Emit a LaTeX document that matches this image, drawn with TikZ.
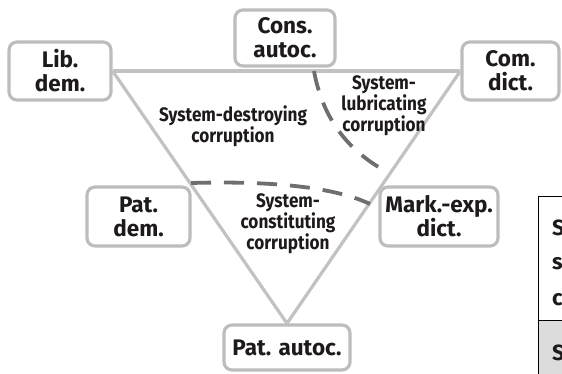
\documentclass[tikz,border=0pt]{standalone}
\usepackage{fontspec}
\setmainfont{Fira Sans}
\newfontfamily\zonefont{Fira Sans}[FakeStretch=0.88]
\definecolor{boxgray}{HTML}{BDBDBD}
\definecolor{linegray}{HTML}{C2C2C2}
\definecolor{dashgray}{HTML}{6E6E6E}
\definecolor{textdark}{HTML}{1E1A1B}
\definecolor{tablegray}{HTML}{DCDCDC}
\tikzset{
  regime/.style={draw=boxgray, line width=3.2pt, rounded corners=8pt, fill=white,
    text=textdark, inner sep=0pt, align=center,
    font=\bfseries\fontsize{22.5}{24}\selectfont},
  zonelabel/.style={text=textdark, align=center, inner sep=0pt,
    font=\zonefont\bfseries\fontsize{19.5}{21}\selectfont},
  side/.style={draw=linegray, line width=3.2pt},
  divider/.style={draw=dashgray, line width=3.8pt, dash pattern=on 20pt off 13pt},
  tabletter/.style={text=textdark, anchor=west, inner sep=0pt,
    font=\bfseries\fontsize{22}{24}\selectfont}
}
\begin{document}
\begin{tikzpicture}[x=1pt,y=-1pt]
\useasboundingbox (0,0) rectangle (562,373);
\clip (0,0) rectangle (562,373);
% boxes
\node[regime, minimum width=102pt, minimum height=58pt] (lib) at (60,71) {Lib.\\dem.};
\node[regime, minimum width=100pt, minimum height=56pt] (cons) at (285,38) {Cons.\\autoc.};
\node[regime, minimum width=97pt, minimum height=58pt] (com) at (510.5,71) {Com.\\dict.};
\node[regime, minimum width=103pt, minimum height=59pt] (patdem) at (138.5,216.5) {Pat.\\dem.};
\node[regime, minimum width=118pt, minimum height=59pt] (mark) at (439,216.5) {Mark.-exp.\\dict.};
\node[regime, minimum width=126pt, minimum height=45pt] (pataut) at (287,347.5) {Pat. autoc.};
% triangle
\draw[side] (lib.east) -- (com.west);
\draw[side] (lib.east) -- (pataut.north);
\draw[side] (com.west) -- (pataut.north);
% dividers
\coordinate (d1s) at (314,71);
\coordinate (d1e) at (389,173);
\coordinate (d2s) at (191,183);
\coordinate (d2e) at (370,204);
\draw[divider] (d1s) .. controls (322,115) and (345,150) .. (d1e);
\draw[divider] (d2s) .. controls (260,181) and (330,185) .. (d2e);
% zone labels
\node[zonelabel] (destroy) at (233,126) {System-destroying\\corruption};
\node[zonelabel] (lubri) at (384,106) {System-\\lubricating\\corruption};
\node[zonelabel] (consti) at (288,224) {System-\\constituting\\corruption};
% partial table at right edge
\fill[tablegray] (538,320) rectangle (575,380);
\draw[black, line width=1pt] (538,380) -- (538,196) -- (575,196);
\draw[black, line width=1pt] (538,320) -- (575,320);
\node[tabletter] (t1) at (552,228) {S};
\node[tabletter] (t2) at (552,264) {s};
\node[tabletter] (t3) at (552,300) {c};
\node[tabletter] (t4) at (552,353) {S};
\end{tikzpicture}
\end{document}
